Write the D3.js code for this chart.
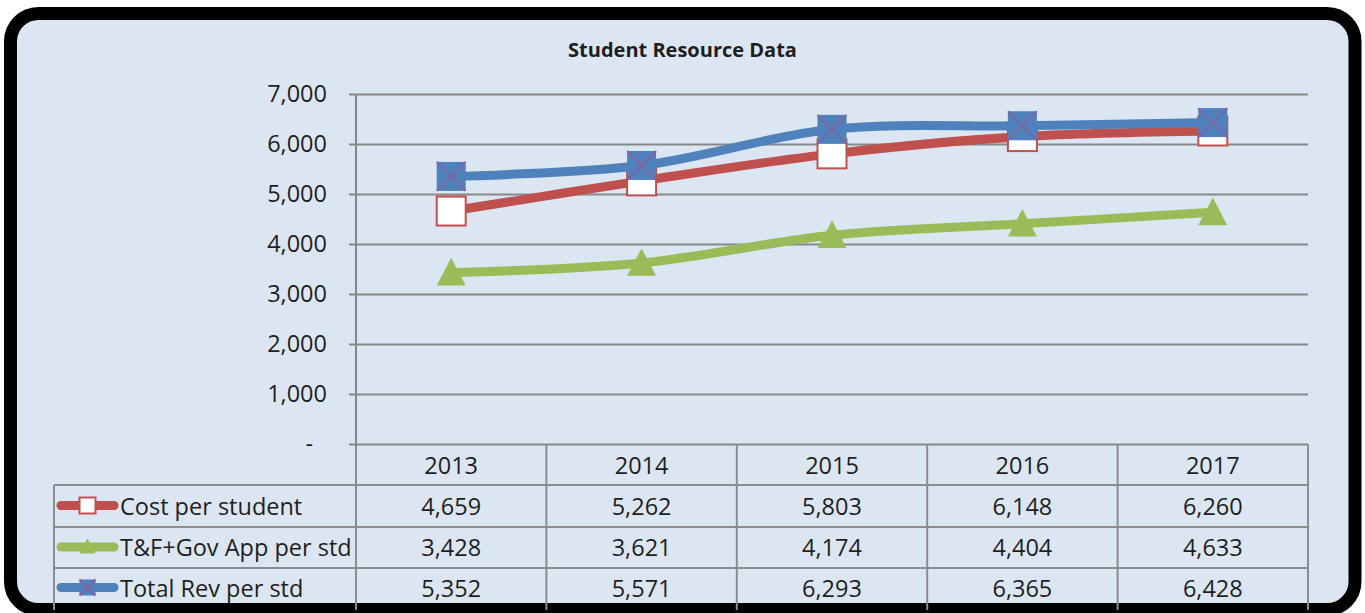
<!DOCTYPE html>
<html>
<head>
<meta charset="utf-8">
<script src="https://cdn.jsdelivr.net/npm/d3@7"></script>
<style>
  html, body { margin: 0; padding: 0; background: #fff; }
  svg { display: block; }
  text { font-family: "Open Sans", "Noto Sans", sans-serif; fill: #1e1e1e; }
</style>
</head>
<body>
<svg id="chart" width="1365" height="613"></svg>
<script>
// ---- data ----
const years = ["2013", "2014", "2015", "2016", "2017"];
const seriesNames = ["Cost per student", "T&F+Gov App per std", "Total Rev per std"];
const costPerStudent = [4659, 5262, 5803, 6148, 6260];
const tfGovPerStd = [3428, 3621, 4174, 4404, 4633];
const totalRevPerStd = [5352, 5571, 6293, 6365, 6428];
const yTickValues = [0, 1000, 2000, 3000, 4000, 5000, 6000, 7000];
const chartTitle = "Student Resource Data";

const seriesList = [
  { name: seriesNames[0], values: costPerStudent, color: "#c0504d", marker: "square" },
  { name: seriesNames[1], values: tfGovPerStd, color: "#9bbb59", marker: "triangle" },
  { name: seriesNames[2], values: totalRevPerStd, color: "#4f81bd", marker: "xsquare" }
];

const svg = d3.select("#chart");
const FS = "23.5px";

// frame
svg.append("rect")
  .attr("x", 10.5).attr("y", 13.5)
  .attr("width", 1344.5).attr("height", 596)
  .attr("rx", 28).attr("ry", 28)
  .attr("fill", "#dce6f2")
  .attr("stroke", "#000").attr("stroke-width", 13);

// title
svg.append("text")
  .attr("x", 682.5).attr("y", 49)
  .attr("text-anchor", "middle")
  .attr("dominant-baseline", "central")
  .style("font-weight", "bold")
  .style("font-size", "20px")
  .text(chartTitle);

const plot = { left: 356, right: 1308, top: 94, bottom: 444 };

const x = d3.scaleBand().domain(years).range([plot.left, plot.right]);
const y = d3.scaleLinear().domain([0, 7000]).range([plot.bottom, plot.top]);

const gridColor = "#878787";

// gridlines + y axis
const yAxis = d3.axisLeft(y)
  .tickValues(yTickValues)
  .tickSize(-(plot.right - plot.left))
  .tickPadding(29)
  .tickFormat(d => d === 0 ? "-" : d3.format(",")(d));

const gy = svg.append("g")
  .attr("transform", `translate(${plot.left},0)`)
  .call(yAxis);
gy.select(".domain").remove();
gy.selectAll(".tick line")
  .attr("x1", -7)
  .attr("stroke", gridColor).attr("stroke-width", 2);
gy.selectAll(".tick text")
  .attr("fill", "#1e1e1e")
  .attr("dy", "0.3em")
  .attr("dx", d => d === 0 ? -14 : 0)
  .style("font-size", FS)
  .style("font-family", '"Open Sans", sans-serif');

// vertical axis line
svg.append("line")
  .attr("x1", plot.left).attr("x2", plot.left)
  .attr("y1", plot.top).attr("y2", plot.bottom)
  .attr("stroke", gridColor).attr("stroke-width", 2);

// ---- data table ----
const tableBottom = 610;
const tableLeft = 54;
const tblColor = "#8c8c8c";
const tbl = svg.append("g");

[485, 527, 568].forEach(ly => {
  tbl.append("line").attr("x1", tableLeft).attr("x2", plot.right)
    .attr("y1", ly).attr("y2", ly).attr("stroke", tblColor).attr("stroke-width", 2);
});
const bounds = years.map(d => x(d)).concat([plot.right]);
bounds.forEach(bx => {
  tbl.append("line").attr("x1", bx).attr("x2", bx)
    .attr("y1", plot.bottom).attr("y2", tableBottom)
    .attr("stroke", tblColor).attr("stroke-width", 2);
});
tbl.append("line").attr("x1", tableLeft).attr("x2", tableLeft)
  .attr("y1", 485).attr("y2", tableBottom)
  .attr("stroke", tblColor).attr("stroke-width", 2);

// header
years.forEach(yr => {
  tbl.append("text")
    .attr("x", x(yr) + x.bandwidth() / 2)
    .attr("y", 464.5)
    .attr("text-anchor", "middle")
    .attr("dominant-baseline", "central")
    .style("font-size", FS)
    .text(yr);
});

const rowCenters = [505.5, 547, 587.5];
seriesList.forEach((s, i) => {
  const cy = rowCenters[i];
  s.values.forEach((v, j) => {
    tbl.append("text")
      .attr("x", x(years[j]) + x.bandwidth() / 2)
      .attr("y", cy)
      .attr("text-anchor", "middle")
      .attr("dominant-baseline", "central")
      .style("font-size", FS)
      .text(d3.format(",")(v));
  });
  tbl.append("text")
    .attr("x", 120).attr("y", cy)
    .attr("dominant-baseline", "central")
    .style("font-size", FS)
    .text(s.name);
  const key = tbl.append("g");
  key.append("line")
    .attr("x1", 61).attr("x2", 114).attr("y1", cy).attr("y2", cy)
    .attr("stroke", s.color).attr("stroke-width", 9).attr("stroke-linecap", "round");
  drawMarker(key, s, 87.5, cy, 16);
});

function drawMarker(g, s, cx, cy, size) {
  const h = size / 2;
  if (s.marker === "square") {
    g.append("rect")
      .attr("x", cx - h).attr("y", cy - h)
      .attr("width", size).attr("height", size)
      .attr("fill", "#ffffff").attr("stroke", s.color).attr("stroke-width", 2);
  } else if (s.marker === "triangle") {
    const th = size * 0.95;
    g.append("path")
      .attr("d", `M${cx},${cy - th / 2 - 1}L${cx + h},${cy + th / 2 - 1}L${cx - h},${cy + th / 2 - 1}Z`)
      .attr("fill", s.color);
  } else {
    g.append("rect")
      .attr("x", cx - h).attr("y", cy - h)
      .attr("width", size).attr("height", size)
      .attr("fill", s.color);
    g.append("path")
      .attr("d", `M${cx - h},${cy - h}L${cx + h},${cy + h}M${cx + h},${cy - h}L${cx - h},${cy + h}`)
      .attr("stroke", "#8064a2").attr("stroke-width", 2).attr("fill", "none");
  }
}

// ---- lines ----
const line = d3.line()
  .x((d, i) => x(years[i]) + x.bandwidth() / 2)
  .y(d => y(d))
  .curve(d3.curveCardinal.tension(0));

const linesG = svg.append("g");
seriesList.forEach(s => {
  linesG.append("path")
    .attr("d", line(s.values))
    .attr("fill", "none")
    .attr("stroke", s.color)
    .attr("stroke-width", 9)
    .attr("stroke-linecap", "round")
    .attr("stroke-linejoin", "round");
  s.values.forEach((v, i) => {
    drawMarker(linesG, s, x(years[i]) + x.bandwidth() / 2, y(v), 29);
  });
});
</script>
</body>
</html>
